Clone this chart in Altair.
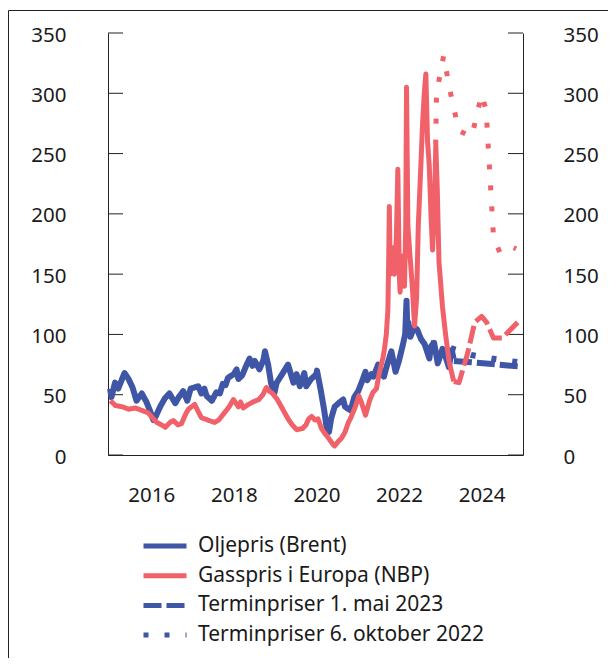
import altair as alt
import pandas as pd

BLUE = "#3F55A6"
RED = "#F0616A"
AX = "#222222"
TXT = "#1a1a1a"
FONT = "Noto Sans"
FS = 20.5
LFS = 21

LBL_OIL = "Oljepris (Brent)"
LBL_GAS = "Gasspris i Europa (NBP)"
LBL_MAY = "Terminpriser 1. mai 2023"
LBL_OCT = "Terminpriser 6. oktober 2022"
legend_order = [LBL_OIL, LBL_GAS, LBL_MAY, LBL_OCT]

oil_dates = ["2015-01-02","2015-01-15","2015-02-15","2015-03-15","2015-05-10","2015-06-15","2015-07-20","2015-08-24","2015-10-10","2015-11-20","2015-12-20",
             "2016-01-20","2016-02-10","2016-03-20","2016-05-01","2016-06-10","2016-08-01","2016-09-01","2016-10-10","2016-11-15","2016-12-15",
             "2017-01-15","2017-02-20","2017-03-20","2017-04-15","2017-05-05","2017-06-20","2017-07-30","2017-08-30","2017-09-25","2017-10-20","2017-11-10","2017-12-31",
             "2018-01-25","2018-02-10","2018-03-15","2018-04-20","2018-05-20","2018-06-15","2018-07-05","2018-08-15","2018-09-20","2018-10-03","2018-10-31","2018-11-25","2018-12-24",
             "2019-01-15","2019-02-25","2019-04-25","2019-06-12","2019-07-10","2019-08-07","2019-09-16","2019-10-03","2019-11-15","2019-12-31",
             "2020-01-06","2020-02-10","2020-03-10","2020-03-31","2020-04-21","2020-05-10","2020-06-10","2020-07-15","2020-08-25","2020-09-10","2020-10-30","2020-12-01",
             "2021-01-05","2021-02-15","2021-03-10","2021-03-25","2021-05-01","2021-05-20","2021-06-30","2021-07-20","2021-08-20","2021-09-15","2021-10-25","2021-12-01","2021-12-31",
             "2022-01-31","2022-02-24","2022-03-08","2022-03-16","2022-03-24","2022-04-11","2022-05-15","2022-06-10","2022-07-15","2022-08-15","2022-09-26","2022-10-10","2022-11-07","2022-12-09",
             "2023-01-20","2023-02-15","2023-03-17","2023-04-12","2023-04-28"]
oil_values = [55,48,60,55,68,63,56,45,51,44,37,
              29,32,40,47,51,43,48,53,45,55,
              56,57,51,55,49,45,52,51,59,58,64,67,
              71,63,66,74,80,74,78,71,79,86,75,60,51,
              60,66,75,60,67,57,68,57,63,67,
              70,53,37,23,19,30,40,43,46,40,37,48,
              53,63,69,62,67,65,75,69,65,74,86,69,78,
              90,100,128,100,110,98,106,104,96,92,80,90,93,76,
              88,82,73,87,80]

gas_dates = ["2015-01-05","2015-02-20","2015-04-20","2015-06-15","2015-08-15","2015-10-10","2015-12-05",
             "2016-01-20","2016-02-20","2016-04-01","2016-05-05","2016-06-15","2016-07-15","2016-08-25","2016-09-25","2016-11-01","2016-11-25",
             "2017-01-20","2017-02-20","2017-03-20","2017-05-15","2017-07-15","2017-08-20","2017-10-10","2017-11-20","2017-12-28",
             "2018-02-10","2018-03-01","2018-03-25","2018-05-10","2018-06-20","2018-08-10","2018-09-15","2018-10-15","2018-11-10","2018-12-10",
             "2019-01-20","2019-02-25","2019-04-25","2019-06-01","2019-07-10","2019-09-01","2019-10-01","2019-10-25","2019-11-20","2019-12-20",
             "2020-01-15","2020-02-15","2020-03-15","2020-04-10","2020-05-25","2020-06-10","2020-07-10","2020-08-10","2020-09-10","2020-10-10","2020-11-01","2020-12-10",
             "2021-01-10","2021-02-01","2021-03-10","2021-04-15","2021-05-15","2021-06-15","2021-07-10","2021-08-10","2021-08-25","2021-09-10","2021-09-24",
             "2021-10-01","2021-10-07","2021-10-15","2021-11-01","2021-11-20","2021-12-08","2021-12-21",
             "2022-01-03","2022-01-10","2022-01-28","2022-02-18","2022-03-01","2022-03-08","2022-03-20","2022-04-04","2022-04-28","2022-05-18",
             "2022-06-05","2022-06-20","2022-07-15","2022-07-28","2022-08-12","2022-08-26","2022-09-10","2022-09-25","2022-10-10","2022-10-24",
             "2022-11-08","2022-11-22","2022-12-05","2022-12-20","2023-01-20","2023-02-15","2023-03-20","2023-04-30"]
gas_values = [45,41,40,38,39,37,35,
              30,27,25,23,27,28.5,25,26,34,38,
              42,36,31,29,27,29,35,40,46,
              40,44,39,42,44,46,50,56,53,51,
              46,40,30,25,21,22,25,30,32,29,
              30,22,18,15,9,7.5,11,14,19,27,31,40,
              49,44,33,45,52,55,68,80,88,100,120,
              160,206,150,172,150,180,237,
              150,135,165,140,190,305,190,170,140,107,
              130,190,245,275,300,316,260,240,200,170,
              200,257,220,160,123,101,77,61]

oil_may_dates = ["2023-05-01","2023-10-01","2024-04-01","2024-11-15"]
oil_may_values = [78,77,75.5,73.5]
oil_oct_dates = ["2022-10-06","2023-01-01","2023-06-01","2023-10-01","2024-04-01","2024-11-15"]
oil_oct_values = [93,91,87,83,80,77]

gas_may_dates = ["2023-05-01","2023-06-15","2023-09-01","2023-11-01","2024-01-01","2024-02-15","2024-04-15","2024-07-01","2024-11-15"]
gas_may_values = [61,60,85,110,115,110,97,97,110]
gas_oct_dates = ["2022-11-18","2022-11-28","2023-01-30","2023-03-28","2023-06-13","2023-10-05","2024-01-01","2024-02-10","2024-04-15","2024-06-10","2024-09-15","2024-11-01"]
gas_oct_values = [240,300,331,302,269,264,299,286,181,168,173,171]

y_ticks = [0, 50, 100, 150, 200, 250, 300, 350]
year_ticks = [2016, 2018, 2020, 2022, 2024]


def frame(dates, values, label):
    return pd.DataFrame({"date": dates, "value": values, "type": label})


oil_df = pd.concat([frame(oil_dates, oil_values, LBL_OIL),
                    frame(oil_may_dates, oil_may_values, LBL_MAY),
                    frame(oil_oct_dates, oil_oct_values, LBL_OCT)])
gas_df = pd.concat([frame(gas_dates, gas_values, LBL_GAS),
                    frame(gas_may_dates, gas_may_values, LBL_MAY),
                    frame(gas_oct_dates, gas_oct_values, LBL_OCT)])

W, H = 415, 422

x_enc = alt.X("date:T",
              scale=alt.Scale(domain=[alt.DateTime(year=2014, month=12, date=15),
                                      alt.DateTime(year=2025, month=1, date=1)]),
              axis=alt.Axis(values=[alt.DateTime(year=y, month=1, date=1) for y in year_ticks],
                            format="%Y", ticks=False, tickSize=0, labelPadding=30,
                            labelFontSize=FS, labelFont=FONT, labelColor=TXT,
                            domainColor=AX, domainWidth=1, grid=False),
              title=None)
y_line = alt.Y("value:Q", scale=alt.Scale(domain=[0, 350], nice=False, zero=True), axis=None)


def make_legend():
    return alt.Legend(title=None, orient="none", legendX=33, legendY=503,
                      direction="vertical", labelFont=FONT, labelFontSize=LFS,
                      labelColor=TXT, symbolType="stroke", symbolSize=1849,
                      symbolStrokeWidth=5, clipHeight=20, rowPadding=8.7,
                      labelOffset=9, padding=0, labelLimit=500)


dash_enc = alt.StrokeDash("type:N",
                          scale=alt.Scale(domain=legend_order,
                                          range=[[1, 0], [1, 0], [18, 5], [5, 16]]),
                          legend=make_legend())

line_props = dict(strokeJoin="round", strokeCap="butt")

oil = alt.Chart(oil_df).mark_line(strokeWidth=6, **line_props).encode(
    x=x_enc, y=y_line,
    color=alt.Color("type:N", scale=alt.Scale(domain=legend_order,
                                              range=[BLUE, RED, BLUE, BLUE]),
                    legend=make_legend()),
    strokeDash=dash_enc,
)

gas = alt.Chart(gas_df).mark_line(color=RED, strokeWidth=5, **line_props).encode(
    x=x_enc, y=y_line,
    strokeDash=dash_enc,
)

ticks_df = pd.DataFrame({"v": y_ticks})


def y_axis_enc(orient, pad, align):
    return alt.Y("v:Q", scale=alt.Scale(domain=[0, 350], nice=False),
                 axis=alt.Axis(orient=orient, values=y_ticks, ticks=False, tickSize=0,
                               labelPadding=pad, labelAlign=align, labelBaseline="middle",
                               labelOffset=2, labelFontSize=FS, labelFont=FONT,
                               labelColor=TXT, domainColor=AX, domainWidth=1, grid=False),
                 title=None)


left_ticks = alt.Chart(ticks_df).mark_rule(color=AX, strokeWidth=1).encode(
    y=y_axis_enc("left", 42, "right"), x=alt.value(0), x2=alt.value(15))
right_ticks = alt.Chart(ticks_df).mark_rule(color=AX, strokeWidth=1).encode(
    y=y_axis_enc("right", 40, "left"), x=alt.value(W - 15), x2=alt.value(W))

border = alt.Chart(pd.DataFrame({"k": [0]})).mark_rect(
    fill="white", fillOpacity=0, stroke=AX, strokeWidth=1).encode(
    x=alt.value(-99.5), x2=alt.value(800), y=alt.value(-22.5), y2=alt.value(900))

chart = alt.layer(border, left_ticks, right_ticks, oil, gas).resolve_scale(
    y="independent"
).properties(
    width=W, height=H,
    autosize=alt.AutoSizeParams(type="none"),
    padding={"left": 100, "top": 25, "right": 85, "bottom": 203},
    background="white",
).configure_view(strokeWidth=0)

chart.save("out.html", embed_options={"renderer": "svg", "actions": False})
